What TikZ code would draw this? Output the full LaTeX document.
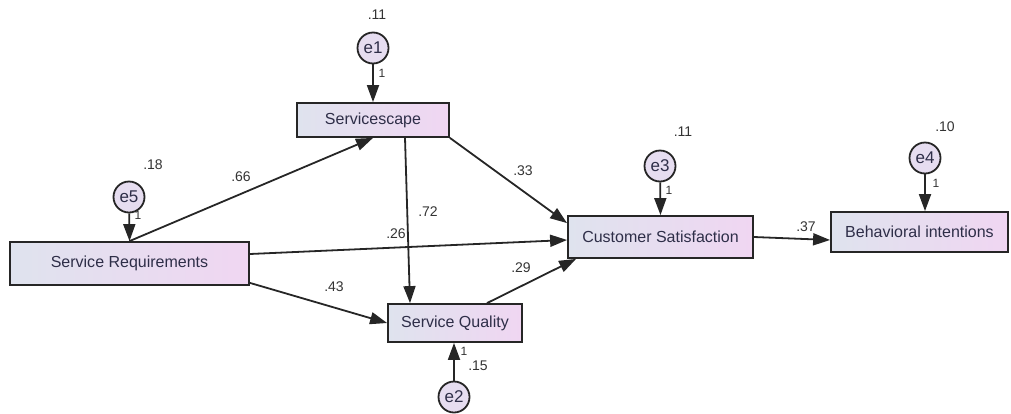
\documentclass[tikz,border=0pt]{standalone}
\usepackage{fontspec}
\setmainfont{Liberation Sans}
\usetikzlibrary{arrows.meta,calc}
\definecolor{boxL}{HTML}{DFE3EE}
\definecolor{boxR}{HTML}{F0D6F2}
\definecolor{errF}{HTML}{E6DDF0}
\definecolor{txt}{HTML}{2E2E48}
\begin{document}
\begin{tikzpicture}[x=1pt,y=-1pt,
  obs/.style={draw=black!85,line width=1.8pt,left color=boxL,right color=boxR,
    minimum height=#1,inner sep=0pt,font=\fontsize{16}{18}\selectfont,text=txt},
  obs/.default=42pt,
  err/.style={circle,draw=black!85,line width=1.8pt,fill=errF,minimum size=31pt,inner sep=0pt,
    font=\fontsize{17}{19}\selectfont,text=txt},
  path/.style={line width=1.8pt,black!85,-{Triangle[length=17pt,width=12pt]}},
  lbl/.style={font=\fontsize{14}{16}\selectfont,text=black!80,inner sep=0pt},
  one/.style={font=\fontsize{12}{14}\selectfont,text=black!80,inner sep=0pt},
]
\useasboundingbox (0,0) rectangle (1011,413);
% observed boxes
\node[obs=43pt,minimum width=239pt] (sr) at (129.5,263.5) {Service Requirements};
\node[obs=34pt,minimum width=152pt] (ss) at (373,120) {Servicescape};
\node[obs=38pt,minimum width=134pt] (sq) at (455,323) {Service Quality};
\node[obs=42pt,minimum width=185pt] (cs) at (660.5,237) {Customer Satisfaction};
\node[obs=40pt,minimum width=177pt] (bi) at (919.5,232) {Behavioral intentions};
% error terms
\node[err] (e1) at (373,48) {e1};
\node[err] (e5) at (129,197) {e5};
\node[err] (e3) at (660,166) {e3};
\node[err] (e4) at (925,158) {e4};
\node[err] (e2) at (454,397) {e2};
% error arrows
\draw[path] (e1) -- (ss.north);
\draw[path] (e5) -- (sr.north);
\draw[path] (e3) -- (cs.north);
\draw[path] (e4) -- ([xshift=5.5pt]bi.north);
\draw[path] (e2) -- ([xshift=-1pt]sq.south);
% structural paths
\draw[path] (sr.north) -- (ss.south);
\draw[path] ([xshift=32pt]ss.south) -- ([xshift=-45pt]sq.north);
\draw[path] (ss.south east) -- ([yshift=-8pt]cs.north west);
\draw[path] ([yshift=9.5pt]sr.east) -- ([yshift=-3pt]cs.west);
\draw[path] ([yshift=3pt]sr.south east) -- (sq.west);
\draw[path] ([xshift=32pt]sq.north) -- ([xshift=9pt]cs.south west);
\draw[path] (cs.east) -- ([yshift=-8pt]bi.west);
% variance labels
\node[lbl] (v1) at (377,15) {.11};
\node[lbl] (v5) at (153,165) {.18};
\node[lbl] (v3) at (683,132) {.11};
\node[lbl] (v4) at (945,127) {.10};
\node[lbl] (v2) at (478,366) {.15};
% fixed loading labels
\node[one] (f1) at (382,73) {1};
\node[one] (f5) at (138,215) {1};
\node[one] (f3) at (669,190) {1};
\node[one] (f4) at (936,183) {1};
\node[one] (f2) at (464,351) {1};
% coefficients
\node[lbl] (c1) at (241,177) {.66};
\node[lbl] (c2) at (428,212) {.72};
\node[lbl] (c3) at (396,234) {.26};
\node[lbl] (c4) at (523,171) {.33};
\node[lbl] (c5) at (334,287) {.43};
\node[lbl] (c6) at (521,268) {.29};
\node[lbl] (c7) at (806,227) {.37};
\end{tikzpicture}
\end{document}
